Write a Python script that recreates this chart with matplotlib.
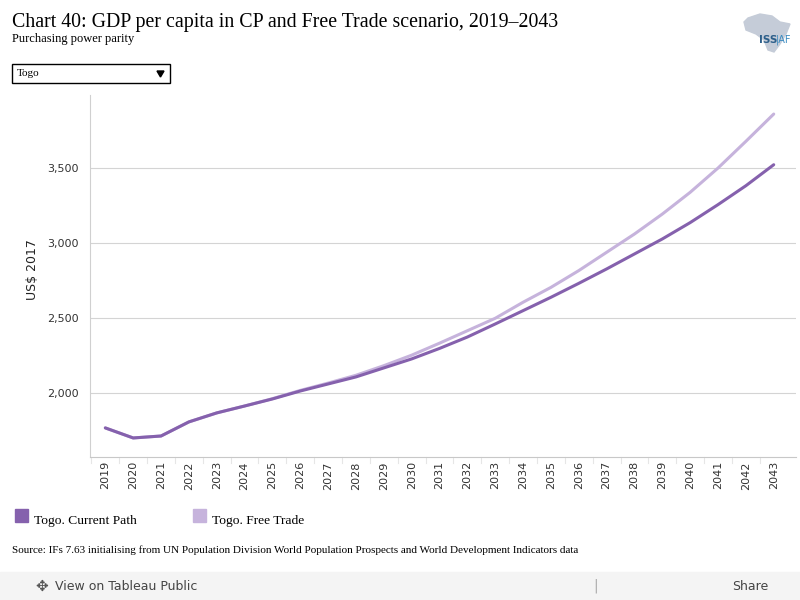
import matplotlib.pyplot as plt
from matplotlib.patches import Rectangle, Polygon
from matplotlib.ticker import FuncFormatter

years = list(range(2019, 2044))
current_path = [1767, 1700, 1713, 1807, 1867, 1913, 1960, 2013, 2060, 2107,
                2167, 2227, 2297, 2373, 2460, 2549, 2638, 2731, 2827, 2927,
                3027, 3136, 3256, 3382, 3522]
free_trade = [1767, 1700, 1713, 1807, 1867, 1913, 1962, 2017, 2066, 2118,
              2182, 2252, 2332, 2415, 2498, 2605, 2704, 2816, 2938, 3060,
              3193, 3338, 3500, 3678, 3860]
series_names = ["Togo. Current Path", "Togo. Free Trade"]
colors = ["#8561ad", "#c6b3dc"]
yticks = [2000, 2500, 3000, 3500]

fig = plt.figure(figsize=(8, 6), dpi=100)
ax = fig.add_axes([90 / 800, 1 - 457 / 600, 706 / 800, 362 / 600])

ax.plot(years, free_trade, color=colors[1], lw=2.2, solid_capstyle="round")
ax.plot(years, current_path, color=colors[0], lw=2.2, solid_capstyle="round")

ax.set_xlim(2018.45, 2043.8)
ax.set_ylim(1573, 3987)
ax.set_yticks(yticks)
ax.yaxis.set_major_formatter(FuncFormatter(lambda v, p: f"{int(v):,}"))
ax.set_xticks(years)
ax.set_xticklabels([str(y) for y in years], rotation=90, fontsize=8,
                   family="DejaVu Sans", color="#333333")
ax.tick_params(axis="y", length=0, labelsize=8, labelcolor="#333333", pad=8)
ax.tick_params(axis="x", length=0, pad=3)
# category separators along the bottom
for y in years:
    ax.plot([y - 0.5, y - 0.5], [1573 - 40, 1573], color="#e6e6e6", lw=0.8,
            clip_on=False)
ax.grid(axis="y", color="#d4d4d4", lw=0.8)
ax.set_axisbelow(True)
for s in ["top", "right"]:
    ax.spines[s].set_visible(False)
ax.spines["left"].set_color("#d0d0d0")
ax.spines["left"].set_linewidth(0.8)
ax.spines["bottom"].set_color("#c8c8c8")
ax.spines["bottom"].set_linewidth(0.8)
fig.text(32 / 800, 1 - 270 / 600, "US$ 2017", fontsize=9, color="#222222",
         rotation=90, va="center", ha="center")

serif = "Liberation Serif"
fig.text(12 / 800, 1 - 22 / 600,
         "Chart 40: GDP per capita in CP and Free Trade scenario, 2019\u20132043",
         family=serif, fontsize=14.3, va="center", ha="left")
fig.text(12 / 800, 1 - 39 / 600, "Purchasing power parity", family=serif,
         fontsize=9, va="center", ha="left")

# dropdown box
fig.patches.append(Rectangle((12 / 800, 1 - 83 / 600), 158 / 800, 19 / 600,
                             transform=fig.transFigure, fill=False,
                             edgecolor="black", lw=1))
fig.text(17 / 800, 1 - 74 / 600, "Togo", family=serif, fontsize=8,
         va="center")
fig.patches.append(Polygon([(157 / 800, 1 - 71 / 600), (164 / 800, 1 - 71 / 600),
                            (160.5 / 800, 1 - 77 / 600)],
                           transform=fig.transFigure, color="black"))

# logo
africa = [(748, 18), (760, 14), (772, 16), (780, 22), (790, 24), (786, 34),
          (780, 44), (774, 52), (768, 50), (764, 40), (756, 34), (746, 30),
          (744, 22)]
fig.patches.append(Polygon([(x / 800, 1 - y / 600) for x, y in africa],
                           transform=fig.transFigure, color="#c5ccd8"))
fig.text(759 / 800, 1 - 40 / 600, "ISS", fontsize=7.5, color="#2d5f8a",
         ha="left", va="center", fontweight="bold")
fig.text(776 / 800, 1 - 40 / 600, "|AF", fontsize=7, color="#3a8ac0",
         ha="left", va="center")

# legend
lx = [15, 193]
for x0, name, c in zip(lx, series_names, colors):
    fig.patches.append(Rectangle((x0 / 800, 1 - 522 / 600), 13 / 800, 13 / 600,
                                 transform=fig.transFigure, color=c))
    fig.text((x0 + 19) / 800, 1 - 521 / 600, name, family=serif, fontsize=9.7,
             va="center", ha="left")

fig.text(12 / 800, 1 - 550 / 600,
         "Source: IFs 7.63 initialising from UN Population Division World "
         "Population Prospects and World Development Indicators data",
         family=serif, fontsize=8, va="center", ha="left")

# toolbar
fig.patches.append(Rectangle((0, 0), 1, 28 / 600, transform=fig.transFigure,
                             color="#f4f4f4"))
fig.text(55 / 800, 1 - 586 / 600, "View on Tableau Public", fontsize=9,
         color="#444444", va="center", ha="left")
fig.text(35 / 800, 1 - 586 / 600, "\u2725", fontsize=11, color="#555555",
         va="center", ha="left")
fig.text(732 / 800, 1 - 586 / 600, "Share", fontsize=9, color="#444444",
         va="center", ha="left")
fig.text(596 / 800, 1 - 586 / 600, "|", fontsize=10, color="#aaaaaa",
         va="center", ha="center")

fig.savefig("out.png", dpi=100)
